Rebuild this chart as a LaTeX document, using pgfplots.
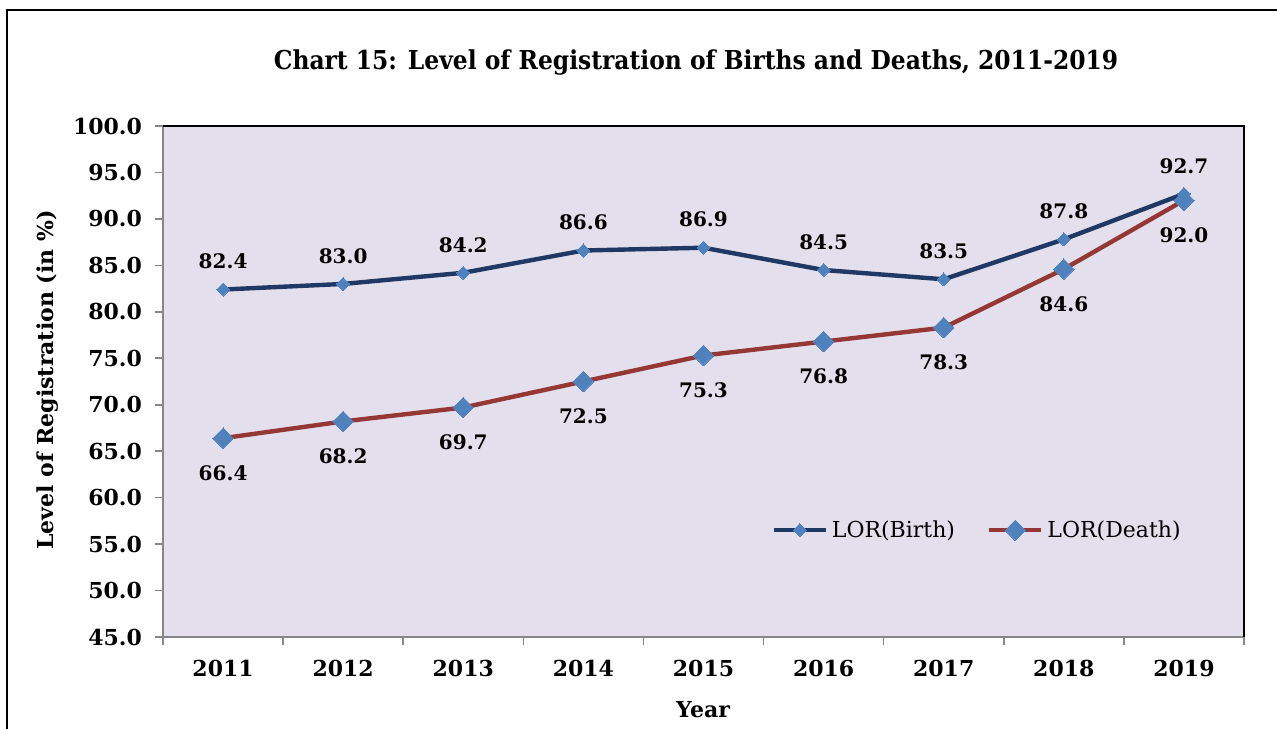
\documentclass[border=0pt]{standalone}
\usepackage{pgfplots}
\pgfplotsset{compat=1.18}
\usepackage{fontspec}
\setmainfont{DejaVu Serif}
\newfontfamily\condfont{DejaVu Serif Condensed}
\definecolor{bg}{HTML}{E4DFEC}
\definecolor{birthline}{HTML}{1F3864}
\definecolor{mk}{HTML}{4F81BD}
\definecolor{deathline}{HTML}{953735}
\definecolor{axisgrey}{HTML}{868686}
\pgfplotstableread{
x y l
0 82.4 82.4
1 83.0 83.0
2 84.2 84.2
3 86.6 86.6
4 86.9 86.9
5 84.5 84.5
6 83.5 83.5
7 87.8 87.8
8 92.7 92.7
}\birth
\pgfplotstableread{
x y l
0 66.4 66.4
1 68.2 68.2
2 69.7 69.7
3 72.5 72.5
4 75.3 75.3
5 76.8 76.8
6 78.3 78.3
7 84.6 84.6
8 92.0 92.0
}\death
\begin{document}
\begin{tikzpicture}
\useasboundingbox (0,0) rectangle (638.5pt,364pt);
\clip (0,0) rectangle (638.5pt,364pt);
\draw[line width=1pt] (3.5pt,-5pt) -- (3.5pt,359pt) -- (645pt,359pt);
\node[font=\condfont\bfseries\fontsize{13}{15}\selectfont] at (348pt,332.5pt) {Chart 15: Level of Registration of Births and Deaths, 2011-2019};
\node[font=\bfseries\fontsize{11}{13}\selectfont, rotate=90] at (24pt,174pt) {Level of Registration (in \%)};
\node[font=\bfseries\fontsize{11}{13}\selectfont] at (351.5pt,9pt) {Year};
\begin{axis}[
  at={(81.5pt,45.5pt)}, anchor=south west,
  scale only axis, width=540.5pt, height=255.5pt,
  xmin=-0.5, xmax=8.5, ymin=45, ymax=100,
  axis background/.style={fill=bg},
  axis lines=left, axis line style={-, draw=axisgrey, line width=0.8pt},
  xtick={0,1,2,3,4,5,6,7,8},
  xticklabels={2011,2012,2013,2014,2015,2016,2017,2018,2019},
  major x tick style={draw=none},
  minor xtick={-0.5,0.5,1.5,2.5,3.5,4.5,5.5,6.5,7.5,8.5},
  minor tick length=4pt,
  minor x tick style={draw=axisgrey, line width=0.8pt},
  ytick={45,50,55,60,65,70,75,80,85,90,95,100},
  yticklabels={45.0,50.0,55.0,60.0,65.0,70.0,75.0,80.0,85.0,90.0,95.0,100.0},
  major y tick style={draw=axisgrey, line width=0.8pt},
  tick align=outside, major tick length=4pt,
  tick label style={font=\bfseries\fontsize{11}{13}\selectfont},
  xticklabel style={yshift=-4pt},
  yticklabel style={xshift=-3pt},
  clip=false,
  legend style={draw=none, fill=none, at={(0.754,0.209)}, anchor=center,
    font=\fontsize{11}{13}\selectfont, /tikz/every even column/.append style={column sep=14pt}},
  legend columns=2,
  legend image code/.code={\draw[mark repeat=2,mark phase=2,#1] plot coordinates {(0pt,0pt)(13pt,0pt)(26pt,0pt)};},
]
\draw[black, line width=0.8pt] (rel axis cs:0,1) -- (rel axis cs:1,1) -- (rel axis cs:1,0);
\addplot[draw=birthline, line width=2.2pt, mark=square*, mark size=2.3pt,
  mark options={fill=mk, draw=mk, line width=0pt, rotate=45},
  nodes near coords, point meta=explicit symbolic,
  every node near coord/.style={font=\bfseries\fontsize{10}{12}\selectfont, text=black, anchor=center, yshift=14pt}]
  table[x=x, y=y, meta=l] {\birth};
\addlegendentry{LOR(Birth)}
\addplot[draw=deathline, line width=2.2pt, mark=square*, mark size=3.6pt,
  mark options={fill=mk, draw=mk, line width=0pt, rotate=45},
  nodes near coords, point meta=explicit symbolic,
  every node near coord/.style={font=\bfseries\fontsize{10}{12}\selectfont, text=black, anchor=center, yshift=-17.5pt}]
  table[x=x, y=y, meta=l] {\death};
\addlegendentry{LOR(Death)}
\end{axis}
\end{tikzpicture}
\end{document}
